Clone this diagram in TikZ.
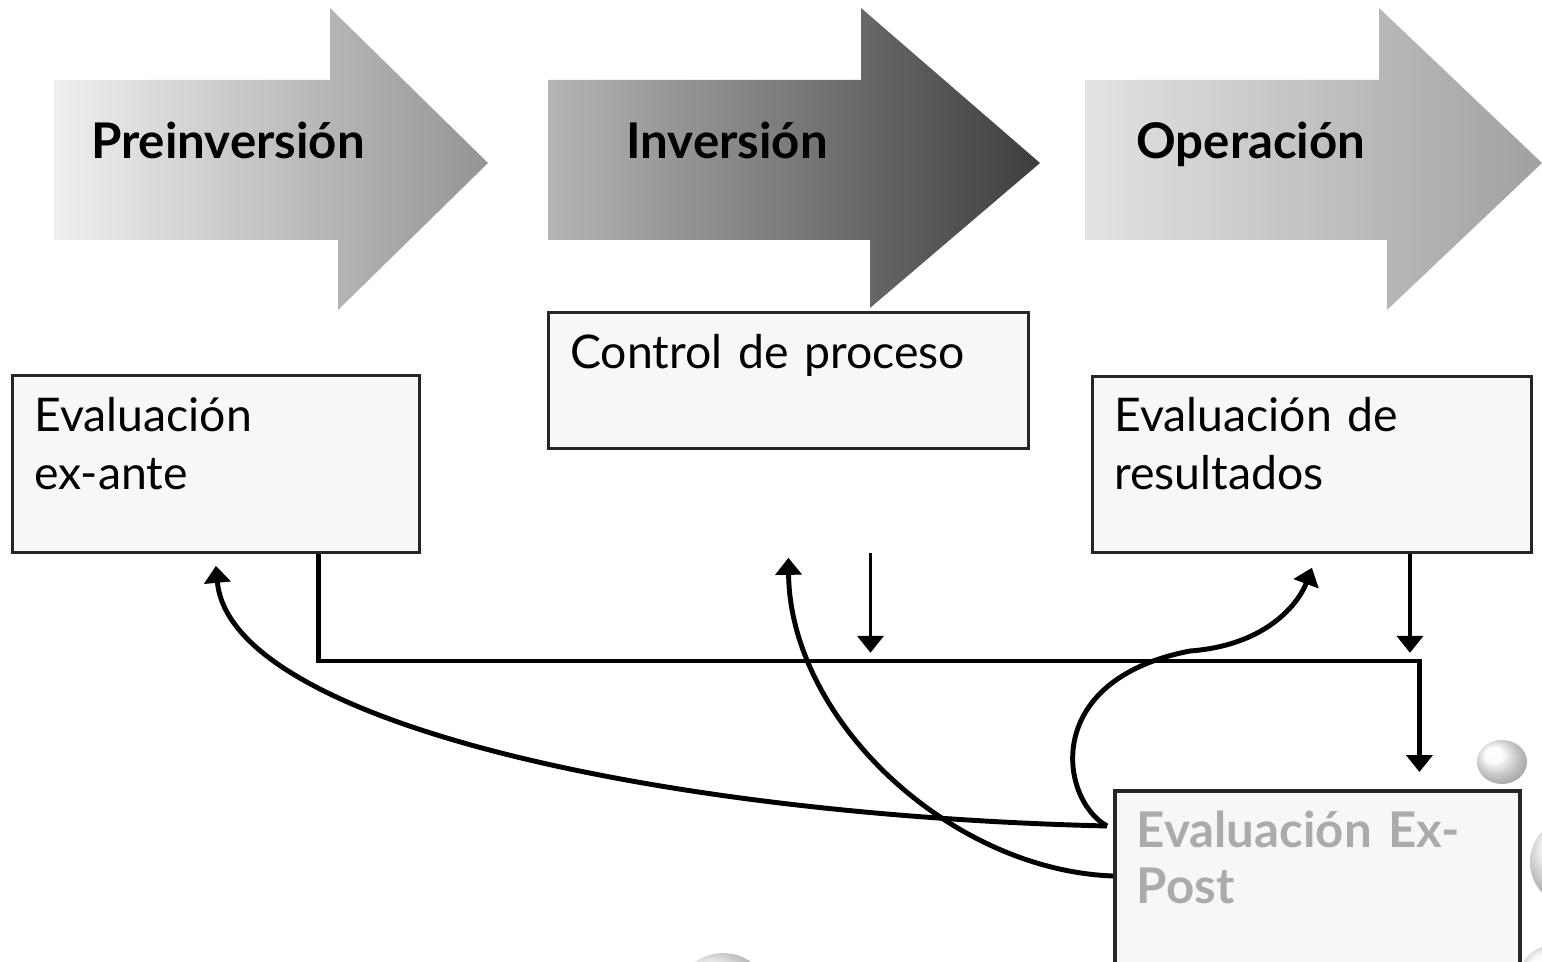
\documentclass[tikz,border=0pt]{standalone}
\usepackage{fontspec}
\setmainfont{Lato}
\usetikzlibrary{positioning, calc, arrows.meta}

\begin{document}
\begin{tikzpicture}[
    caja/.style={draw=black!85, line width=0.8pt, fill=black!3, anchor=north west,
      align=left, inner xsep=0.22cm, inner ysep=0pt, font=\fontsize{13.2}{16.5}\selectfont},
    fase/.style={anchor=base, font=\fontsize{14}{16}\selectfont\bfseries},
    flecha/.style={line width=1.4pt, -{Triangle[length=1.7mm,width=2.6mm]}},
    burbuja/.style={ball color=black!4, opacity=0.55}
  ]
    \useasboundingbox (0,0) rectangle (15.42,-9.62);
    % burbujas del fondo
    \shade[burbuja] (15.02,-7.62) ellipse (0.25 and 0.22);
    \shade[burbuja] (15.75,-8.62) ellipse (0.45 and 0.45);
    \shade[burbuja] (15.55,-9.75) ellipse (0.35 and 0.3);
    \shade[burbuja] (7.23,-9.95) ellipse (0.45 and 0.42);
    % fases
    \shade[left color=black!6, right color=black!42]
      (0.54,-0.80) -- (3.30,-0.80) -- (3.30,-0.08) -- (4.88,-1.63) -- (3.38,-3.10)
      -- (3.38,-2.40) -- (0.54,-2.40) -- cycle;
    \shade[left color=black!29, right color=black!76]
      (5.48,-0.80) -- (8.61,-0.80) -- (8.61,-0.08) -- (10.40,-1.63) -- (8.70,-3.08)
      -- (8.70,-2.40) -- (5.48,-2.40) -- cycle;
    \shade[left color=black!11, right color=black!37]
      (10.85,-0.80) -- (13.79,-0.80) -- (13.79,-0.08) -- (15.42,-1.63) -- (13.87,-3.10)
      -- (13.87,-2.40) -- (10.85,-2.40) -- cycle;
    \node[fase] (pre) at (2.28,-1.59) {Preinversión};
    \node[fase] (inv) at (7.27,-1.59) {Inversión};
    \node[fase] (ope) at (12.51,-1.59) {Operación};
    % cajas
    \node[caja, text width=3.63cm, text height=0.56cm, text depth=1.21cm] (exante) at (0.11,-3.74) {Evaluación\\ex-ante};
    \node[caja, text width=4.36cm, text height=0.56cm, text depth=0.80cm] (control) at (5.47,-3.11) {Control de proceso};
    \node[caja, text width=3.95cm, text height=0.55cm, text depth=1.21cm] (resultados) at (10.91,-3.75) {Evaluación de\\resultados};
    \node[caja, line width=1pt, text width=3.61cm, text height=0.57cm, text depth=2.2cm,
      text=black!33, font=\fontsize{14}{16}\selectfont\bfseries] (expost) at (11.13,-7.89) {Evaluación Ex-\\Post};
    % conexiones
    \coordinate (a1) at ($(exante.south west)!0.75!(exante.south east)$);
    \coordinate (d1) at ($(expost.north west)!0.75!(expost.north east)$);
    \coordinate (d2) at ($(expost.north west)+(-0.06,-0.37)$);
    \coordinate (d3) at ($(expost.north west)+(0,-0.87)$);
    \draw[flecha] (a1) |- ($(d1)+(0,1.28)$) -- ($(d1)+(0,0.17)$);
    \draw[flecha, line width=1.1pt] ($(control.south west)!0.67!(control.south east)+(0,-1.03)$) -- ++(0,-1.0);
    \draw[flecha, line width=1.1pt] ($(resultados.south west)!0.722!(resultados.south east)$) -- ++(0,-0.99);
    \draw[flecha] (d2) .. controls (6.50,-8.15) and (2.30,-7.20) .. ($(exante.south)+(0,-0.12)$);
    \draw[flecha] (d3) .. controls (9.50,-8.70) and (7.90,-7.20) .. ($(control.south)+(0,-1.08)$);
    \draw[flecha] (d2) .. controls (10.60,-8.00) and (10.40,-6.80) .. (11.90,-6.51)
      .. controls (12.70,-6.45) and (13.00,-6.00) .. ($(resultados.south west)!0.5!(resultados.south east)+(0,-0.14)$);
\end{tikzpicture}
\end{document}
